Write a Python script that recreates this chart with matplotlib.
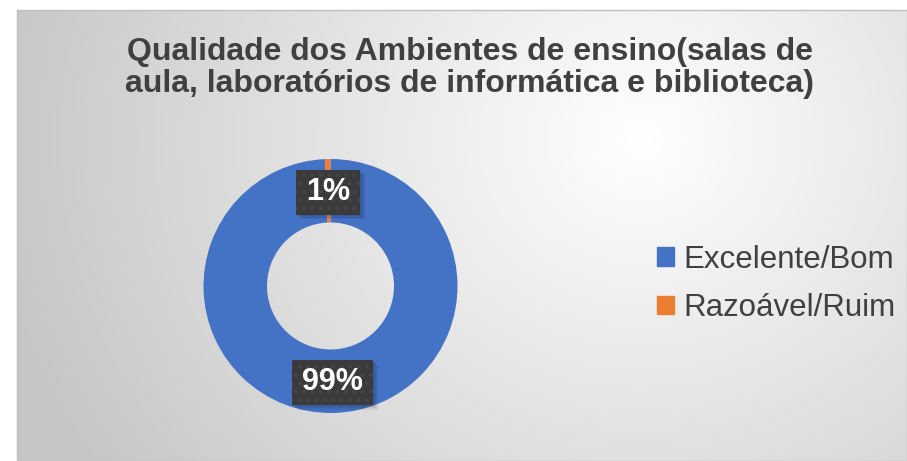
import numpy as np
import matplotlib.pyplot as plt
from matplotlib.patches import Rectangle

# dados
categorias = ['Excelente/Bom', 'Razoável/Ruim']
valores = [99.3, 0.7]
rotulos = ['99%', '1%']
cores = ['#4472C4', '#ED7D31']
titulo = 'Qualidade dos Ambientes de ensino(salas de\naula, laboratórios de informática e biblioteca)'

plt.rcParams['font.family'] = ['Liberation Sans', 'DejaVu Sans']
plt.rcParams['hatch.linewidth'] = 1.5

W, H = 907, 461
fig = plt.figure(figsize=(W / 100, H / 100), dpi=100)
fig.patch.set_facecolor('white')

# fundo com gradiente radial (area do grafico)
x0, y0, x1, y1 = 17, 10, 907, 461
bg = fig.add_axes([x0 / W, 1 - y1 / H, (x1 - x0) / W, (y1 - y0) / H])
gx, gy = np.meshgrid(np.arange(x0, x1), np.arange(y0, y1))
d = np.sqrt((gx - 640) ** 2 + ((gy - 140) / 0.9) ** 2)
d = np.clip(d / 650, 0, 1)
g = 1.0 - 0.22 * d
bg.imshow(np.dstack([g, g, g]), extent=[0, 1, 0, 1], aspect='auto', origin='upper')
bg.set_xticks([])
bg.set_yticks([])
for s in bg.spines.values():
    s.set_color('#bfbfbf')
    s.set_linewidth(1)

fig.text(470 / W, 1 - 68 / H, titulo, ha='center', va='center',
         fontsize=23, fontweight='bold', color='#404040', linespacing=1.08)

# rosca
cx, cy, r = 330.5, 286, 127
ax = fig.add_axes([(cx - r) / W, 1 - (cy + r) / H, 2 * r / W, 2 * r / H])
wedges, _ = ax.pie(valores, colors=cores, startangle=90, counterclock=False,
                   radius=1, wedgeprops=dict(width=0.5, edgecolor='none'))
ax.set_xlim(-1, 1)
ax.set_ylim(-1, 1)
ax.set_aspect('equal')
ax.axis('off')

textos = []
for w, lab in zip(wedges, rotulos):
    ang = np.deg2rad((w.theta1 + w.theta2) / 2)
    t = ax.text(0.75 * np.cos(ang), 0.75 * np.sin(ang) - 0.01, lab, ha='center', va='center',
                fontsize=22, fontweight='bold', color='white', zorder=5)
    textos.append(t)

# caixas escuras dos rotulos
fig.canvas.draw()
ren = fig.canvas.get_renderer()
for t in textos:
    bb = t.get_window_extent(ren)
    bw = (bb.width + 20) / r
    bh = 45 / r
    xc, yc = t.get_position()
    for k in range(3):
        off = 0.012 * (k + 1)
        ax.add_patch(Rectangle((xc - bw / 2 + off, yc - bh / 2 - off), bw, bh,
                               facecolor='black', alpha=0.07, edgecolor='none', zorder=3))
    ax.add_patch(Rectangle((xc - bw / 2, yc - bh / 2), bw, bh, facecolor='#3a3a3a',
                           edgecolor='#464646', hatch='..', linewidth=0, zorder=4))

handles = [Rectangle((0, 0), 1, 1, color=c) for c in cores]
leg = fig.legend(handles, categorias, loc='center left', bbox_to_anchor=(657 / W, 1 - 284 / H),
                 frameon=False, fontsize=22.5, handlelength=0.55, handleheight=0.55,
                 handletextpad=0.3, labelspacing=0.58, borderpad=0, borderaxespad=0)
for t in leg.get_texts():
    t.set_color('#404040')

fig.savefig('out.png', dpi=100)
